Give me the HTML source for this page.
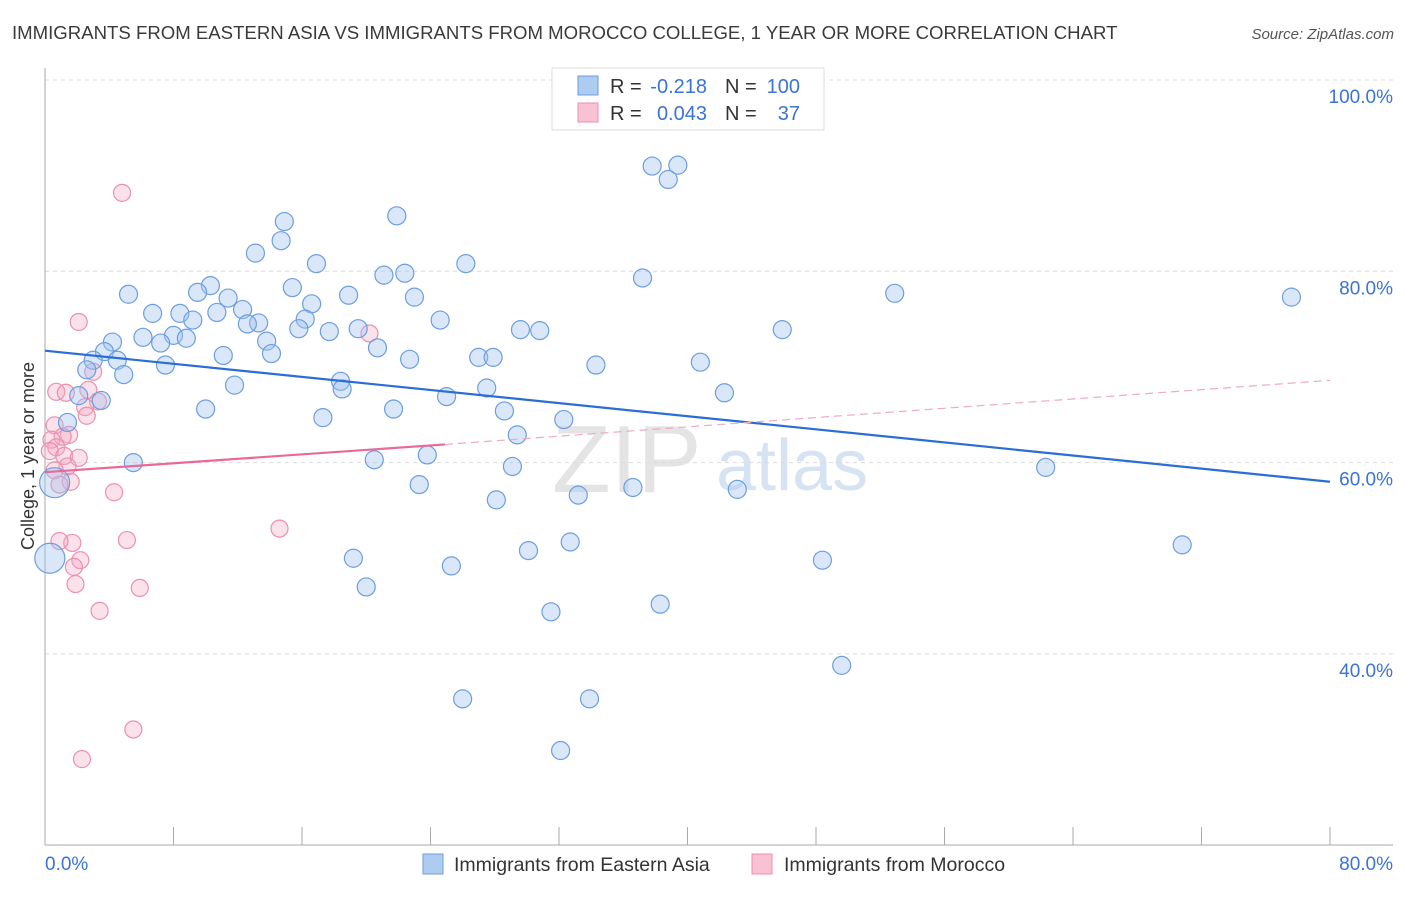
<!DOCTYPE html>
<html><head><meta charset="utf-8"><style>
body{margin:0;background:#fff;font-family:"Liberation Sans",sans-serif;}
svg text{font-family:"Liberation Sans",sans-serif;}
</style></head><body>
<svg id="chart" width="1406" height="892" viewBox="0 0 1406 892">
<text x="12" y="39" font-size="18.6" fill="#3a3a3a">IMMIGRANTS FROM EASTERN ASIA VS IMMIGRANTS FROM MOROCCO COLLEGE, 1 YEAR OR MORE CORRELATION CHART</text>
<text x="1394" y="39" font-size="15" fill="#555" font-style="italic" text-anchor="end">Source: ZipAtlas.com</text>
<text x="34" y="456" font-size="18" fill="#333" text-anchor="middle" transform="rotate(-90 34 456)">College, 1 year or more</text>
<g><text x="552" y="492" font-size="96" fill="#e4e4e4" font-family="Liberation Serif">ZIP</text><text x="716" y="490" font-size="72" fill="#d6e3f3">atlas</text></g>
<g id="grid"></g><g id="axes"></g><g id="marks"></g>
<g>
<rect x="552" y="68" width="272" height="62" fill="#fff" stroke="#ddd"/>
<rect x="578" y="76" width="20" height="19" fill="#aecbf0" stroke="#6c9ee0"/>
<rect x="578" y="103" width="20" height="19" fill="#f8c2d3" stroke="#ec8fb0"/>
<text x="610" y="93" font-size="20" fill="#333">R =</text>
<text x="707" y="93" font-size="20" fill="#3b73d6" text-anchor="end">-0.218</text>
<text x="725" y="93" font-size="20" fill="#333">N =</text>
<text x="800" y="93" font-size="20" fill="#3b73d6" text-anchor="end">100</text>
<text x="610" y="120" font-size="20" fill="#333">R =</text>
<text x="707" y="120" font-size="20" fill="#3b73d6" text-anchor="end">0.043</text>
<text x="725" y="120" font-size="20" fill="#333">N =</text>
<text x="800" y="120" font-size="20" fill="#3b73d6" text-anchor="end">37</text>
</g>
<g>
<rect x="423" y="854" width="20" height="20" fill="#aecbf0" stroke="#6c9ee0"/>
<text x="454" y="871" font-size="19.5" fill="#333">Immigrants from Eastern Asia</text>
<rect x="752" y="854" width="20" height="20" fill="#f8c2d3" stroke="#ec8fb0"/>
<text x="784" y="871" font-size="19.5" fill="#333">Immigrants from Morocco</text>
</g>
</svg>
<script>
const blueX=[37.8,39.4,38.8,21.9,14.9,14.7,13.1,16.9,26.2,21.1,22.4,37.2,10.3,15.4,5.2,9.5,11.4,18.9,23.0,52.9,77.6,16.6,12.3,10.7,6.7,8.4,9.2,13.3,12.6,16.2,24.6,15.8,17.7,19.5,29.6,30.8,45.9,4.2,6.1,8.0,8.8,7.2,13.8,20.7,3.7,14.1,11.1,3.0,4.5,7.5,22.7,27.0,27.9,34.3,40.8,2.6,4.9,18.4,18.5,11.8,27.5,42.3,2.1,3.5,10.0,21.7,25.0,28.6,17.3,32.3,1.4,29.4,23.8,20.5,5.5,29.1,62.3,23.3,36.6,33.2,43.1,28.1,32.7,30.1,70.8,19.2,25.3,48.4,20.0,38.3,31.5,49.6,26.0,33.9,32.1,0.6,0.3];
const blueY=[91.0,91.1,89.6,85.8,85.2,83.2,81.9,80.8,80.8,79.6,79.8,79.3,78.5,78.3,77.6,77.8,77.2,77.5,77.3,77.7,77.3,76.6,76.0,75.7,75.6,75.6,74.9,74.6,74.5,75.0,74.9,74.0,73.7,74.0,73.9,73.8,73.9,72.6,73.1,73.3,73.0,72.5,72.7,72.0,71.6,71.4,71.2,70.7,70.7,70.2,70.8,71.0,71.0,70.2,70.5,69.7,69.2,68.5,67.7,68.1,67.8,67.3,67.0,66.5,65.6,65.6,66.9,65.4,64.7,64.5,64.2,62.9,60.8,60.3,60.0,59.6,59.5,57.7,57.4,56.6,57.2,56.1,51.7,50.8,51.4,50.0,49.2,49.8,47.0,45.2,44.4,38.8,35.3,35.3,29.9,57.9,50.0];
const blueR=blueX.map((v,i)=>i>=blueX.length-2?15:9);
const pinkX=[4.8,2.1,20.2,3.0,2.7,0.7,1.3,3.3,2.5,2.6,0.6,1.5,1.1,0.4,0.7,0.3,1.2,2.1,1.4,0.6,1.6,0.9,4.3,14.6,5.1,1.7,0.9,2.2,1.8,1.9,5.9,3.4,5.5,2.3];
const pinkY=[88.2,74.7,73.5,69.5,67.6,67.4,67.3,66.4,65.8,64.9,63.9,62.9,62.7,62.4,61.6,61.2,60.7,60.5,59.6,59.2,58.0,57.7,56.9,53.1,51.9,51.6,51.8,49.8,49.1,47.3,46.9,44.5,32.1,29.0];
const blueTrend=[[0,71.7],[80,58.0]];
const pinkTrendSolid=[[0,59.0],[24.9,61.9]];
const pinkTrendDash=[[24.9,61.9],[80,68.6]];
const yTicks=[100,80,60,40];
const xTicks=[0,8,16,24,32,40,48,56,64,72,80];
const NS='http://www.w3.org/2000/svg';
const sx=v=>45+v*1285/80;
const sy=v=>80+(100-v)*191.3/20;
function mk(tag,attrs,parent){const e=document.createElementNS(NS,tag);for(const k in attrs)e.setAttribute(k,attrs[k]);document.getElementById(parent).appendChild(e);return e;}
yTicks.forEach(t=>{
 const l=mk('line',{x1:45,x2:1393,y1:sy(t),y2:sy(t),stroke:'#dcdcdc','stroke-dasharray':'4,4'},'grid');
 
 
 const tx=mk('text',{x:1393,y:sy(t)+23,'font-size':19,fill:'#3b73d6','text-anchor':'end'},'axes');
 tx.textContent=t.toFixed(1)+'%';
 
 
});
const ya=mk('line',{x1:45,x2:45,y1:68,y2:845,stroke:'#aaa'},'axes');


const xa=mk('line',{x1:45,x2:1393,y1:845,y2:845,stroke:'#aaa'},'axes');


xTicks.forEach(t=>{
 const l=mk('line',{x1:sx(t),x2:sx(t),y1:827,y2:845,stroke:'#aaa'},'axes');
 
 
});
[[0,'0.0%','start',45],[80,'80.0%','end',1393]].forEach(d=>{
 const tx=mk('text',{x:d[3],y:870,'font-size':19,fill:'#3b73d6','text-anchor':d[2]},'axes');
 tx.textContent=d[1];
 
 
});
pinkX.forEach((x,i)=>{
 const c=mk('circle',{cx:sx(x),cy:sy(pinkY[i]),r:8.5,fill:'rgba(244,170,195,0.35)',stroke:'#ec8fb0','stroke-width':1.2},'marks');
 
 
});
blueX.forEach((x,i)=>{
 const c=mk('circle',{cx:sx(x),cy:sy(blueY[i]),r:blueR[i],fill:'rgba(160,196,240,0.4)',stroke:'#6c9ee0','stroke-width':1.2},'marks');
 
 
});
const bt=mk('line',{x1:sx(blueTrend[0][0]),y1:sy(blueTrend[0][1]),x2:sx(blueTrend[1][0]),y2:sy(blueTrend[1][1]),stroke:'#2a6dd6','stroke-width':2.2},'marks');


const pt=mk('line',{x1:sx(pinkTrendSolid[0][0]),y1:sy(pinkTrendSolid[0][1]),x2:sx(pinkTrendSolid[1][0]),y2:sy(pinkTrendSolid[1][1]),stroke:'#e8699a','stroke-width':2.2},'marks');


const pd=mk('line',{x1:sx(pinkTrendDash[0][0]),y1:sy(pinkTrendDash[0][1]),x2:sx(pinkTrendDash[1][0]),y2:sy(pinkTrendDash[1][1]),stroke:'#eeaac3','stroke-width':1.2,'stroke-dasharray':'8,5'},'marks');


</script>
</body></html>
